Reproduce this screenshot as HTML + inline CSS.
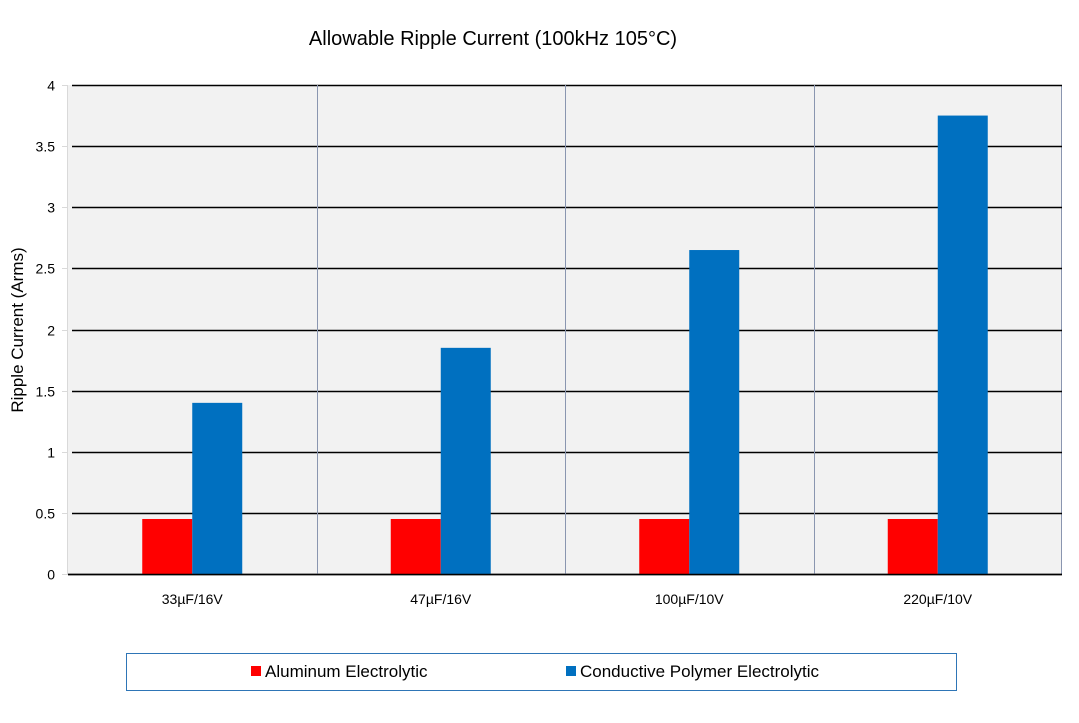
<!DOCTYPE html>
<html><head><meta charset="utf-8"><style>
body{margin:0;background:#fff;width:1079px;height:718px;overflow:hidden;font-family:"Liberation Sans",sans-serif}
</style></head><body>
<svg width="1079" height="718" font-family="Liberation Sans, sans-serif">
<text x="493" y="45" font-size="20" text-anchor="middle" fill="#000">Allowable Ripple Current (100kHz 105°C)</text>
<rect x="68" y="85" width="994" height="489" fill="#f2f2f2"/>
<line x1="67.5" y1="85" x2="67.5" y2="574" stroke="#d9d9d9"/>
<line x1="1061.5" y1="85" x2="1061.5" y2="574" stroke="#8a96b0"/>
<g id="grid"></g><g id="bars"></g><g id="labels"></g>
<text transform="translate(23,330) rotate(-90)" font-size="17" text-anchor="middle">Ripple Current (Arms)</text>
<rect x="126.5" y="653.5" width="830" height="37" fill="#fff" stroke="#2e75b6"/>
<rect x="251" y="666" width="10" height="10" fill="#ff0000"/>
<text x="265" y="677" font-size="17">Aluminum Electrolytic</text>
<rect x="566" y="666" width="10" height="10" fill="#0070c0"/>
<text x="580" y="677" font-size="17">Conductive Polymer Electrolytic</text>
</svg>
<script>
const categories=["33µF/16V","47µF/16V","100µF/10V","220µF/10V"];
const aluminum=[0.45,0.45,0.45,0.45];
const polymer=[1.4,1.85,2.65,3.75];
const yTicks=[0,0.5,1,1.5,2,2.5,3,3.5,4];
const ns="http://www.w3.org/2000/svg";
const x0=68,x1=1062,y0=574,y1=85,yMax=4;
const bw=(x1-x0)/categories.length;
const Y=v=>y0-(v/yMax)*(y0-y1);
const X=i=>x0+i*bw;
function mk(tag,attrs,parent){const e=document.createElementNS(ns,tag);for(const k in attrs)e.setAttribute(k,attrs[k]);document.getElementById(parent).appendChild(e);return e;}
yTicks.forEach(t=>{
 const y=Math.round(Y(t))+0.5;
 const l=mk('line',{x1:t===0?68:72,x2:1062,y1:y,y2:y,stroke:'#000','stroke-width':1.5},'grid');
 
 
 const tk=mk('line',{x1:62,x2:68,y1:y,y2:y,stroke:'#d9d9d9'},'grid');
 
 
 const tx=mk('text',{x:55,y:y+5,'font-size':14,'text-anchor':'end'},'labels');
 tx.textContent=String(t);
 
 
});
for(let i=1;i<categories.length;i++){
 const s=mk('line',{x1:Math.round(X(i))+0.5,x2:Math.round(X(i))+0.5,y1:y1,y2:y0,stroke:'#8a96b0'},'grid');
 
 
}
const barW=50;
categories.forEach((c,i)=>{
 const cx=X(i)+bw/2;
 const r=mk('rect',{x:cx-barW,y:Y(aluminum[i]),width:barW,height:y0-Y(aluminum[i]),fill:'#ff0000'},'bars');
 
 
 const b=mk('rect',{x:cx,y:Y(polymer[i]),width:barW,height:y0-Y(polymer[i]),fill:'#0070c0'},'bars');
 
 
 const t=mk('text',{x:cx,y:604,'font-size':14,'text-anchor':'middle'},'labels');
 t.textContent=c;
 
 
});
const ax=mk('line',{x1:68,x2:1062,y1:574.5,y2:574.5,stroke:'#000','stroke-width':1.5},'bars');


</script>
</body></html>
